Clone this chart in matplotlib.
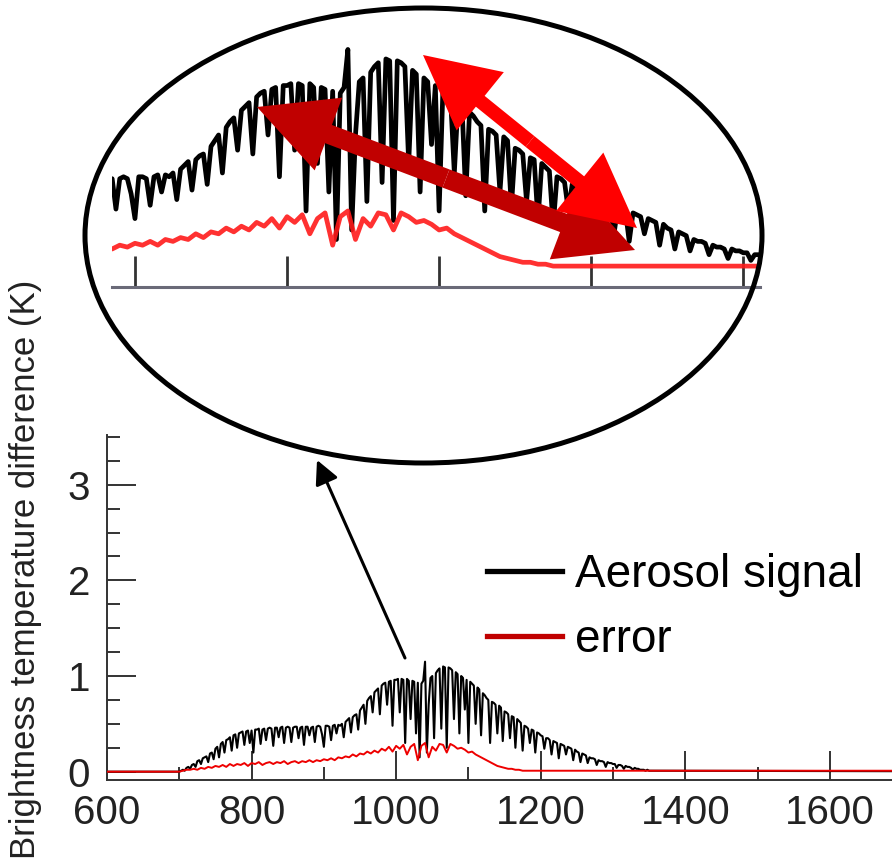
import matplotlib
matplotlib.use("Agg")
import numpy as np
import matplotlib.pyplot as plt
from matplotlib.patches import Ellipse, FancyArrowPatch, ArrowStyle
from matplotlib.lines import Line2D
from matplotlib.ticker import MultipleLocator

plt.rcParams['font.family'] = ['Liberation Sans', 'DejaVu Sans']

# ---------------- data ----------------
# spectral channels of the aerosol signal: 600, 700 ... 1350 every 2.5 cm-1, 1690
signal_wavenumber = [600] + list(np.arange(700, 1350.01, 2.5)) + [1690]
aerosol_signal = [0.0,
    0.00, 0.01, 0.02, 0.01, 0.04, 0.05, 0.03, 0.07, 0.08, 0.05,   # 700
    0.11, 0.12, 0.08, 0.14, 0.15, 0.16, 0.10, 0.19, 0.20, 0.13,   # 725
    0.24, 0.26, 0.15, 0.29, 0.31, 0.20, 0.33, 0.34, 0.36, 0.22,   # 750
    0.38, 0.39, 0.25, 0.40, 0.41, 0.42, 0.28, 0.42, 0.43, 0.30,   # 775
    0.43, 0.20, 0.44, 0.44, 0.45, 0.29, 0.44, 0.45, 0.33, 0.45,   # 800
    0.46, 0.45, 0.27, 0.46, 0.46, 0.36, 0.46, 0.47, 0.30, 0.46,   # 825
    0.47, 0.46, 0.31, 0.46, 0.47, 0.47, 0.35, 0.46, 0.47, 0.28,   # 850
    0.47, 0.47, 0.38, 0.46, 0.47, 0.31, 0.47, 0.48, 0.47, 0.39,   # 875
    0.26, 0.48, 0.48, 0.47, 0.33, 0.48, 0.49, 0.40, 0.49, 0.48,   # 900
    0.50, 0.36, 0.52, 0.54, 0.56, 0.41, 0.57, 0.59, 0.60, 0.44,   # 925
    0.64, 0.67, 0.70, 0.50, 0.74, 0.77, 0.79, 0.62, 0.83, 0.85,   # 950
    0.87, 0.60, 0.90, 0.92, 0.93, 0.70, 0.94, 0.95, 0.48, 0.96,   # 975
    0.96, 0.97, 0.62, 0.97, 0.96, 0.30, 0.97, 0.95, 0.55, 0.95,   # 1000
    0.94, 0.40, 0.93, 0.15, 0.92, 0.95, 1.15, 0.20, 0.70, 0.98,   # 1025
    1.00, 0.35, 1.03, 1.06, 1.08, 0.45, 1.10, 1.09, 0.25, 1.09,   # 1050
    1.08, 1.06, 0.55, 1.04, 1.02, 0.40, 1.00, 0.98, 0.65, 0.96,   # 1075
    0.30, 0.94, 0.92, 0.90, 0.50, 0.88, 0.86, 0.38, 0.82, 0.80,   # 1100
    0.77, 0.75, 0.30, 0.73, 0.72, 0.70, 0.40, 0.69, 0.67, 0.32,   # 1125
    0.63, 0.62, 0.60, 0.35, 0.58, 0.57, 0.25, 0.55, 0.53, 0.51,   # 1150
    0.22, 0.48, 0.47, 0.45, 0.30, 0.44, 0.43, 0.20, 0.41, 0.40,   # 1175
    0.38, 0.37, 0.24, 0.35, 0.35, 0.33, 0.18, 0.32, 0.31, 0.30,   # 1200
    0.14, 0.29, 0.28, 0.27, 0.18, 0.26, 0.25, 0.24, 0.12, 0.23,   # 1225
    0.21, 0.20, 0.10, 0.19, 0.18, 0.17, 0.09, 0.15, 0.14, 0.14,   # 1250
    0.13, 0.07, 0.12, 0.11, 0.11, 0.10, 0.05, 0.10, 0.09, 0.09,   # 1275
    0.08, 0.08, 0.04, 0.07, 0.07, 0.06, 0.03, 0.06, 0.05, 0.05,   # 1300
    0.04, 0.02, 0.04, 0.03, 0.03, 0.02, 0.02, 0.02, 0.01, 0.02,   # 1325
    0.01,                                                         # 1350
    0.005]

error_wavenumber = [600,
    700, 705, 710, 715, 720, 725, 730, 735, 740, 745, 750, 755, 760, 765, 770, 775, 780, 785, 790, 795,
    800, 805, 810, 815, 820, 825, 830, 835, 840, 845, 850, 855, 860, 865, 870, 875, 880, 885, 890, 895,
    900, 905, 910, 915, 920, 925, 930, 935, 940, 945, 950, 955, 960, 965, 970, 975, 980, 985, 990, 995,
    1000, 1005, 1010, 1015, 1020, 1025, 1030, 1035, 1040, 1045, 1050, 1055, 1060, 1065, 1070, 1075, 1080, 1085, 1090, 1095,
    1100, 1105, 1110, 1115, 1120, 1125, 1130, 1135, 1140, 1145, 1150, 1155, 1160, 1165, 1170, 1175,
    1690]
error = [0.0,
    0.00, 0.01, 0.02, 0.02, 0.03, 0.02, 0.04, 0.03, 0.05, 0.04, 0.06, 0.05, 0.07, 0.05, 0.08, 0.06, 0.08, 0.07, 0.09, 0.06,
    0.09, 0.08, 0.10, 0.07, 0.09, 0.10, 0.08, 0.10, 0.09, 0.11, 0.08, 0.10, 0.11, 0.09, 0.11, 0.10, 0.12, 0.10, 0.12, 0.11,
    0.13, 0.12, 0.14, 0.12, 0.15, 0.14, 0.16, 0.15, 0.18, 0.16, 0.19, 0.18, 0.21, 0.19, 0.22, 0.20, 0.24, 0.22, 0.26, 0.21,
    0.27, 0.24, 0.28, 0.18, 0.26, 0.29, 0.12, 0.27, 0.30, 0.15, 0.26, 0.22, 0.29, 0.28, 0.20, 0.29, 0.27, 0.24, 0.25, 0.23,
    0.20, 0.21, 0.18, 0.16, 0.14, 0.12, 0.10, 0.08, 0.06, 0.05, 0.04, 0.03, 0.03, 0.02, 0.02, 0.01,
    0.01]

series_labels = ["Aerosol signal", "error"]
x_ticks = [600, 800, 1000, 1200, 1400, 1600]
y_ticks = [0, 1, 2, 3]
inset_ticks = [900, 1000, 1100, 1200, 1300]

assert len(signal_wavenumber) == len(aerosol_signal)
assert len(error_wavenumber) == len(error)

# ---------------- figure ----------------
W, H = 892, 867
fig = plt.figure(figsize=(W / 100, H / 100), dpi=100)


def fx(px):
    return px / W


def fy(py):
    return 1 - py / H


# main axes: left 107px, bottom spine at 780px, top at 435px
ax = fig.add_axes([fx(107), fy(780), fx(892) - fx(107), fy(435) - fy(780)])
ax.set_facecolor('none')
ax.plot(signal_wavenumber, aerosol_signal, color='black', lw=1.5, zorder=2)
ax.plot(error_wavenumber, error, color='#ee0000', lw=1.4, zorder=3)
ax.set_xlim(600, 1686)
ax.set_ylim(-0.087, 3.52)
ax.set_xticks(x_ticks)
ax.set_yticks(y_ticks)
ax.xaxis.set_minor_locator(MultipleLocator(100))
ax.yaxis.set_minor_locator(MultipleLocator(0.25))
for s in ['top', 'right']:
    ax.spines[s].set_visible(False)
for s in ['left', 'bottom']:
    ax.spines[s].set_color('#333333')
    ax.spines[s].set_linewidth(1.4)
ax.tick_params(which='major', direction='in', length=21, width=1.4, color='#333333',
               labelsize=29, labelcolor='#222222')
ax.tick_params(which='minor', direction='in', length=9.5, width=1.4, color='#333333')
ax.tick_params(axis='x', which='major', pad=10)
ax.tick_params(axis='y', which='major', pad=12)
ax.set_ylabel("Brightness temperature difference (K)", fontsize=25, color='#222222')
ax.yaxis.set_label_coords((42 - 107) / 785, (780 - 569) / 345)

# legend
handles = [Line2D([], [], color='black', lw=3.8), Line2D([], [], color='#c00000', lw=3.8)]
ax.legend(handles, series_labels, loc='upper left', bbox_to_anchor=(fx(487), fy(553)),
          bbox_transform=fig.transFigure, frameon=False, fontsize=33, borderpad=0,
          borderaxespad=0, handlelength=1.64, handletextpad=0.28, labelspacing=0.45)

# ---------------- zoomed inset inside the ellipse ----------------
iax = fig.add_axes([fx(112), fy(287), fx(760) - fx(112), fy(20) - fy(287)])
iax.set_facecolor('none')
iax.plot(signal_wavenumber, aerosol_signal, color='black', lw=3.4, zorder=2)
iax.plot(error_wavenumber, error, color='#ff1a1a', lw=3.4, alpha=0.9, zorder=3)
iax.set_xlim(884.9, 1311)
iax.set_ylim(-0.1, 1.305)
for s in ['top', 'right', 'left']:
    iax.spines[s].set_visible(False)
iax.spines['bottom'].set_color('#6a6a78')
iax.spines['bottom'].set_linewidth(2.2)
iax.set_xticks(inset_ticks)
iax.set_yticks([])
iax.tick_params(axis='x', direction='in', length=22, width=2, color='#333333', labelbottom=False)

# ellipse frame
ell = Ellipse((fx(423.5), fy(235.5)), fx(677), 455 / H, transform=fig.transFigure,
              fill=False, edgecolor='black', lw=3.6, zorder=5)
fig.add_artist(ell)

# black arrow from the peak to the ellipse
fig.add_artist(FancyArrowPatch((fx(405), fy(658)), (fx(317), fy(460)), transform=fig.transFigure,
                               arrowstyle='-|>,head_length=0.8,head_width=0.4', mutation_scale=18,
                               color='black', lw=2.2, shrinkA=0, shrinkB=0, zorder=6))


def double_arrow(p1, p2, color, head_length, head_width, tail_width):
    mid = ((p1[0] + p2[0]) / 2, (p1[1] + p2[1]) / 2)
    style = ArrowStyle.Simple(head_length=head_length, head_width=head_width, tail_width=tail_width)
    for tip in (p1, p2):
        fig.add_artist(FancyArrowPatch((fx(mid[0]), fy(mid[1])), (fx(tip[0]), fy(tip[1])),
                                       transform=fig.transFigure, arrowstyle=style, mutation_scale=1,
                                       color=color, lw=0, shrinkA=0, shrinkB=0, zorder=7))


double_arrow((257, 107), (635, 250), '#c00000', 55, 56, 14)
double_arrow((423, 55), (637, 228), '#ff0000', 53, 54, 10)

fig.savefig('out.png', dpi=100)
